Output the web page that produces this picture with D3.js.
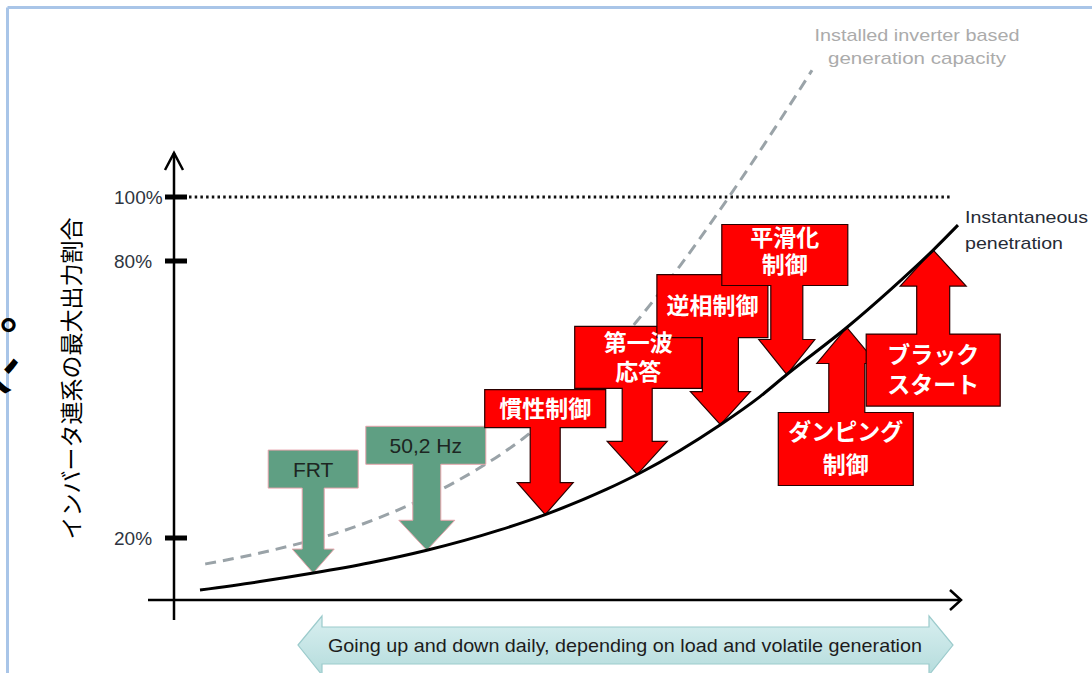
<!DOCTYPE html>
<html><head><meta charset="utf-8">
<script src="https://cdn.jsdelivr.net/npm/d3@7"></script>
<style>
html,body{margin:0;padding:0;background:#fff;}
svg{display:block;}
</style></head>
<body>
<svg id="chart" width="1092" height="673"></svg>
<script>
// ---------- data ----------
const yTickValues = [20, 80, 100];
const yTickLabels = ["20%", "80%", "100%"];
const yTitle = "インバータ連系の最大出力割合";
const xTitle = "Going up and down daily, depending on load and volatile generation";

// Instantaneous penetration (solid curve)
const penetrationX = [3.25, 10.75, 17.4, 24.5, 31.6, 40.75, 46.4, 54.1, 58.25, 68.25, 73.25, 76.6, 84.1, 89.5, 94.9, 98.0];
const penetrationY = [8.74, 10.56, 12.4, 14.63, 17.34, 21.75, 25.07, 30.57, 34.08, 44.48, 50.63, 55.41, 65.6, 73.7, 83.41, 91.22];
const penetrationLabel = ["Instantaneous", "penetration"];

// Installed inverter based generation capacity (dashed curve)
const capacityX = [3.9, 10.75, 23.25, 34.9, 40.75, 43.6, 50.75, 57.9, 63.25, 69.1, 74.5, 79.75];
const capacityY = [14.37, 16.75, 22.82, 31.89, 38.0, 41.49, 53.23, 67.05, 78.96, 99.06, 119.2, 139.6];
const capacityLabel = ["Installed inverter based", "generation capacity"];

// Control functions (arrows touching the penetration curve)
const controlLabels = [["FRT"], ["50,2 Hz"], ["慣性制御"], ["第一波", "応答"], ["逆相制御"], ["平滑化", "制御"], ["ダンピング", "制御"], ["ブラック", "スタート"]];
const controlX = [17.4, 31.6, 46.4, 57.9, 68.3, 76.6, 84.1, 94.9];
const controlDir = ["down", "down", "down", "down", "down", "down", "up", "up"];
const controlKind = ["existing", "existing", "new", "new", "new", "new", "new", "new"];

// ---------- layout ----------
const svg = d3.select("#chart");
const x = d3.scaleLinear().domain([0, 100]).range([174, 974]);
const y = d3.scaleLinear().domain([20, 80, 100]).range([538, 261, 197]);

// arrow geometry (pixels): box width, box height, box x-offset, gap tip->box, head length, head half-width, shaft half-width, text shift, line gap
const arrowLayout = [
  {bw: 90,  bh: 38, dx: 0,  gap: 85, hl: 24, hh: 21, sh: 11, ty: 0,  lg: 0},
  {bw: 120, bh: 38, dx: -1, gap: 86, hl: 30, hh: 28, sh: 14, ty: 0,  lg: 0},
  {bw: 121, bh: 38, dx: 0,  gap: 87, hl: 32, hh: 28, sh: 15, ty: -2, lg: 0},
  {bw: 127, bh: 62, dx: 1,  gap: 86, hl: 33, hh: 30, sh: 15, ty: -2, lg: 29},
  {bw: 111, bh: 63, dx: -8, gap: 87, hl: 33, hh: 30, sh: 18, ty: -2, lg: 0},
  {bw: 126, bh: 61, dx: -2, gap: 89, hl: 35, hh: 28, sh: 16, ty: -6, lg: 27},
  {bw: 135, bh: 73, dx: -1, gap: 85, hl: 36, hh: 30, sh: 18, ty: -2, lg: 33},
  {bw: 134, bh: 72, dx: 0,  gap: 84, hl: 36, hh: 33, sh: 16.5, ty: -2, lg: 30}
];
const kindFill = {existing: "#5f9f83", new: "#ff0000"};
const kindStroke = {existing: "#e7a3ab", new: "#2a0000"};

const latin = "'Liberation Sans', Arial, sans-serif";
const cjk = "'Noto Sans CJK JP', 'Noto Sans', sans-serif";

// frame
svg.append("line").attr("x1", 7.5).attr("y1", 7.5).attr("x2", 1092).attr("y2", 7.5)
  .attr("stroke", "#a9c5e8").attr("stroke-width", 3);
svg.append("line").attr("x1", 7.5).attr("y1", 7.5).attr("x2", 7.5).attr("y2", 673)
  .attr("stroke", "#a9c5e8").attr("stroke-width", 3);

// clipped text fragment on the left edge
svg.append("text").attr("transform", "translate(-16,352) rotate(90)")
  .attr("font-family", cjk).attr("font-weight", "bold").attr("font-size", 44).attr("fill", "#000")
  .text("ン");
svg.append("text").attr("x", 0).attr("y", 329)
  .attr("font-family", cjk).attr("font-weight", "bold").attr("font-size", 44).attr("fill", "#000")
  .text("。");

// axes
const axisX = x(0);
const axisG = svg.append("g");
axisG.append("line").attr("x1", axisX).attr("x2", axisX).attr("y1", 153).attr("y2", 620)
  .attr("stroke", "#000").attr("stroke-width", 2.5);
axisG.append("path").attr("d", d3.line()([[axisX - 9, 170], [axisX, 153], [axisX + 9, 170]]))
  .attr("fill", "none").attr("stroke", "#000").attr("stroke-width", 2.5);
const baseY = 600;
axisG.append("line").attr("x1", 148).attr("x2", 961).attr("y1", baseY).attr("y2", baseY)
  .attr("stroke", "#000").attr("stroke-width", 2.5);
axisG.append("path").attr("d", d3.line()([[950, baseY - 10], [961, baseY], [950, baseY + 10]]))
  .attr("fill", "none").attr("stroke", "#000").attr("stroke-width", 2.5);

// ticks
axisG.selectAll(".tick").data(yTickValues).join("line")
  .attr("x1", axisX - 9).attr("x2", axisX + 13)
  .attr("y1", d => y(d)).attr("y2", d => y(d))
  .attr("stroke", "#000").attr("stroke-width", 5);
axisG.selectAll(".tl").data(yTickValues).join("text")
  .attr("x", 114).attr("y", d => y(d) + 7)
  .attr("font-family", latin).attr("font-size", 19).attr("fill", "#2e3440")
  .text((d, i) => yTickLabels[i]);

// 100% dotted line
svg.append("line").attr("x1", axisX + 15).attr("x2", 950).attr("y1", y(100)).attr("y2", y(100))
  .attr("stroke", "#111").attr("stroke-width", 3).attr("stroke-dasharray", "2.5,3.2");

// y title
svg.append("text").attr("transform", `translate(80,${(212 + 545) / 2}) rotate(-90)`)
  .attr("text-anchor", "middle").attr("font-family", cjk).attr("font-size", 23).attr("fill", "#000")
  .text(yTitle);

// capacity dashed curve (under arrows)
const line = d3.line().x(d => x(d[0])).y(d => y(d[1])).curve(d3.curveMonotoneX);
const capData = capacityX.map((v, i) => [v, capacityY[i]]);
svg.append("path").attr("d", line(capData)).attr("fill", "none")
  .attr("stroke", "#9aa3a8").attr("stroke-width", 3).attr("stroke-dasharray", "11,7");
svg.selectAll(".capl").data(capacityLabel).join("text")
  .attr("x", 917).attr("y", (d, i) => 41 + i * 23).attr("text-anchor", "middle")
  .attr("font-family", latin).attr("font-size", 17).attr("fill", "#ababab")
  .attr("textLength", (d, i) => [205, 178][i]).attr("lengthAdjust", "spacingAndGlyphs")
  .text(d => d);

// penetration data
const penData = penetrationX.map((v, i) => [v, penetrationY[i]]);
const penPx = penData.map(d => [x(d[0]), y(d[1])]);
function curveYAt(px) {
  for (let i = 0; i < penPx.length - 1; i++) {
    const a = penPx[i], b = penPx[i + 1];
    if (px >= a[0] && px <= b[0]) return a[1] + (b[1] - a[1]) * (px - a[0]) / (b[0] - a[0]);
  }
  return penPx[penPx.length - 1][1];
}

// arrows
const arrows = controlX.map((v, i) => {
  const L = arrowLayout[i];
  const tx = x(v), ty = curveYAt(tx);
  const bx = tx + L.dx;
  const s = controlDir[i] === "down" ? 1 : -1; // down arrow: box above tip
  const b1 = ty - s * L.gap;          // box edge nearest tip
  const b0 = b1 - s * L.bh;           // far box edge
  const hb = ty - s * L.hl;           // head base
  const pts = [
    [bx - L.bw / 2, b0], [bx + L.bw / 2, b0], [bx + L.bw / 2, b1],
    [tx + L.sh, b1], [tx + L.sh, hb], [tx + L.hh, hb], [tx, ty],
    [tx - L.hh, hb], [tx - L.sh, hb], [tx - L.sh, b1], [bx - L.bw / 2, b1]
  ];
  return {i, L, pts, bx, cy: (b0 + b1) / 2, kind: controlKind[i], lines: controlLabels[i]};
});

const ag = svg.append("g");
arrows.forEach(a => {
  ag.append("path").attr("d", d3.line()(a.pts) + "Z")
    .attr("fill", kindFill[a.kind]).attr("stroke", kindStroke[a.kind])
    .attr("stroke-width", a.kind === "new" ? 1.2 : 1).attr("stroke-linejoin", "miter");
});
arrows.forEach(a => {
  const n = a.lines.length;
  const isNew = a.kind === "new";
  const t = ag.append("text")
    .attr("text-anchor", "middle").attr("dominant-baseline", "central")
    .attr("font-family", isNew ? cjk : latin).attr("font-weight", isNew ? "bold" : "normal")
    .attr("font-size", isNew ? 23 : 21).attr("fill", isNew ? "#fff" : "#1d2622");
  a.lines.forEach((s, j) => {
    t.append("tspan").attr("x", a.bx)
      .attr("y", a.cy + (j - (n - 1) / 2) * a.L.lg + a.L.ty)
      .text(s);
  });
});

// penetration solid curve (on top)
svg.append("path").attr("d", line(penData)).attr("fill", "none")
  .attr("stroke", "#000").attr("stroke-width", 3);
svg.selectAll(".penl").data(penetrationLabel).join("text")
  .attr("x", 965).attr("y", (d, i) => 223 + i * 26)
  .attr("font-family", latin).attr("font-size", 17).attr("fill", "#262b36")
  .attr("textLength", (d, i) => [123, 98][i]).attr("lengthAdjust", "spacingAndGlyphs")
  .text(d => d);

// bottom double arrow band
const bandG = svg.append("g");
const grad = svg.append("defs").append("linearGradient").attr("id", "band").attr("x1", 0).attr("x2", 0).attr("y1", 0).attr("y2", 1);
grad.append("stop").attr("offset", 0).attr("stop-color", "#d8eff0");
grad.append("stop").attr("offset", 1).attr("stop-color", "#b5dcdc");
const bandPts = [[298, 645], [322, 616], [322, 627], [929, 627], [929, 616], [953, 645], [929, 675], [929, 664], [322, 664], [322, 675]];
bandG.append("path").attr("d", d3.line()(bandPts) + "Z")
  .attr("fill", "url(#band)").attr("stroke", "#9ccbcc").attr("stroke-width", 1.2);
bandG.append("text").attr("x", 625).attr("y", 652).attr("text-anchor", "middle")
  .attr("font-family", latin).attr("font-size", 19).attr("fill", "#1c1c1c")
  .attr("textLength", 594).attr("lengthAdjust", "spacingAndGlyphs")
  .text(xTitle);
</script>
</body></html>
